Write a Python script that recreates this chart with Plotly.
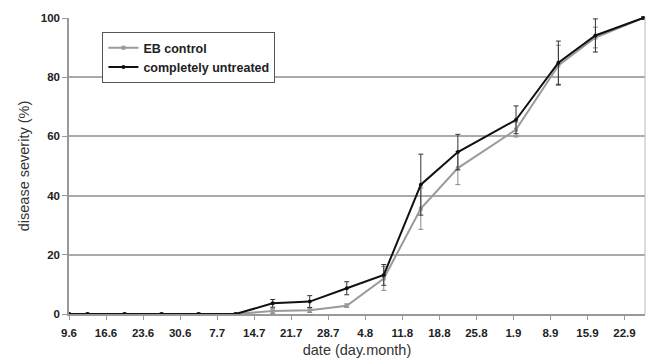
import plotly.graph_objects as go

dates = [
    "2006-06-09 00:00", "2006-06-12 12:00", "2006-06-19 12:00", "2006-06-26 12:00",
    "2006-07-03 12:00", "2006-07-10 12:00", "2006-07-17 12:00", "2006-07-24 12:00",
    "2006-07-31 12:00", "2006-08-07 12:00", "2006-08-14 12:00", "2006-08-21 12:00",
    "2006-09-01 12:00", "2006-09-09 12:00", "2006-09-16 12:00", "2006-09-25 12:00",
]
eb_control = [0, 0, 0, 0, 0, 0, 1.0, 1.3, 2.8, 12.0, 35.6, 49.3, 62.3, 84.0, 93.4, 100]
eb_control_err = [None, None, None, None, None, None, 0.8, 0.8, 0.6, 4.0, 7.0, 5.6, 2.5, 6.8, 3.5, None]
untreated = [0, 0, 0, 0, 0, 0, 3.6, 4.2, 8.7, 13.2, 43.7, 54.7, 65.6, 84.9, 94.1, 100]
untreated_err = [None, None, None, None, None, None, 1.3, 2.0, 2.2, 3.5, 10.3, 6.0, 4.7, 7.3, 5.6, None]

fig = go.Figure()
fig.add_trace(go.Scatter(
    x=dates, y=eb_control, name="EB control", mode="lines+markers",
    line=dict(color="#9a9a9a", width=2),
    marker=dict(color="#9a9a9a", size=4, symbol="square"),
    error_y=dict(type="data", array=eb_control_err, visible=True,
                 color="#8a8a8a", thickness=1, width=2.5),
    cliponaxis=False,
))
fig.add_trace(go.Scatter(
    x=dates, y=untreated, name="completely untreated", mode="lines+markers",
    line=dict(color="#111111", width=2),
    marker=dict(color="#111111", size=4, symbol="circle"),
    error_y=dict(type="data", array=untreated_err, visible=True,
                 color="#333333", thickness=1, width=2.5),
    cliponaxis=False,
))

fig.update_layout(
    width=647, height=360,
    margin=dict(l=69, r=2, t=18, b=46),
    paper_bgcolor="white", plot_bgcolor="white",
    font=dict(family="Liberation Sans, Arial, sans-serif", color="#222222", size=12),
    showlegend=True,
    legend=dict(
        x=0.058, y=0.952, xanchor="left", yanchor="top",
        bgcolor="white", bordercolor="#555555", borderwidth=1,
        font=dict(size=12.5, family="Liberation Sans, Arial, sans-serif", weight="bold"),
        tracegroupgap=0, itemwidth=30,
    ),
    xaxis=dict(
        type="date",
        range=["2006-06-09 00:00", "2006-09-25 21:00"],
        tick0="2006-06-09", dtick=7 * 24 * 3600 * 1000,
        tickformat="%-d.%-m",
        ticks="outside", ticklen=4, tickcolor="#999999",
        ticklabelstandoff=3,
        showline=True, linecolor="#999999", linewidth=1.5,
        showgrid=False, zeroline=False,
        mirror=False,
        tickfont=dict(size=11.5, weight="bold", color="#222222"),
        title=dict(text="date (day.month)", font=dict(size=14.5, color="#333333"), standoff=7),
    ),
    yaxis=dict(
        range=[0, 100], tickvals=[0, 20, 40, 60, 80, 100],
        ticks="outside", ticklen=5, tickcolor="#999999",
        showline=True, linecolor="#999999", linewidth=1.5,
        showgrid=True, gridcolor="#aaaaaa", gridwidth=1.5,
        zeroline=False,
        tickfont=dict(size=11.5, weight="bold", color="#222222"),
        title=dict(text="disease severity (%)", font=dict(size=14.5, color="#333333"), standoff=8),
    ),
)
# right border of the plot area
fig.add_shape(type="line", xref="paper", yref="paper", x0=1, x1=1, y0=0, y1=1,
              line=dict(color="#bbbbbb", width=1))

fig.write_html("out.html")
